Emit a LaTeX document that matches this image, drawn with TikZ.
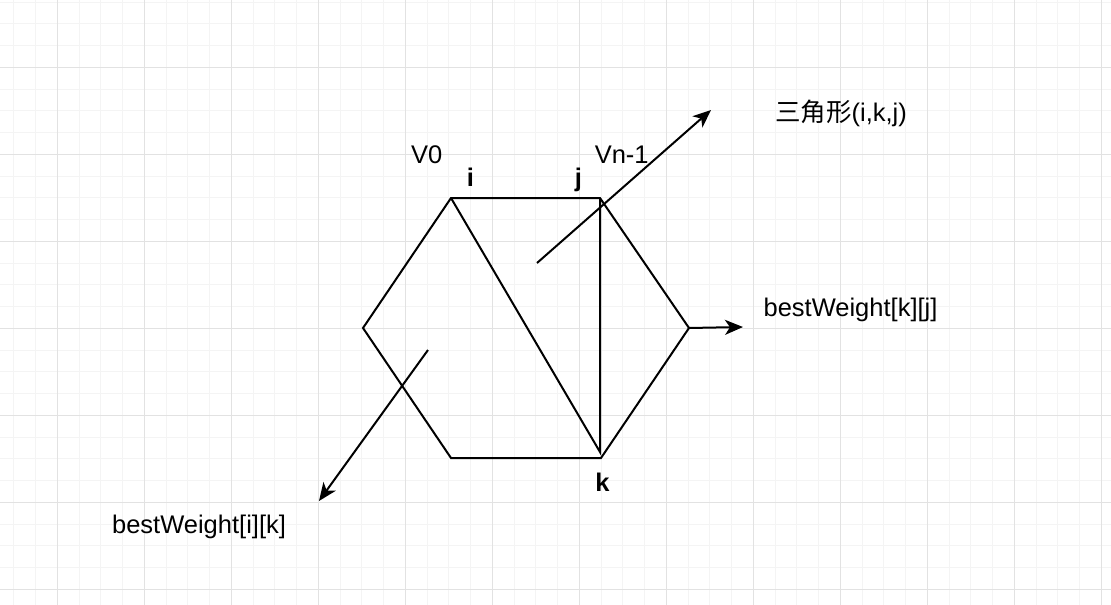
\documentclass[tikz,border=0pt]{standalone}
\usepackage{fontspec}
\setmainfont{Liberation Sans}
\newfontfamily\cjkfont{Noto Sans CJK SC}
\usepackage{tikz}
\usetikzlibrary{arrows.meta}
\definecolor{gridminor}{HTML}{F4F4F4}
\definecolor{gridmajor}{HTML}{E2E2E2}

\begin{document}
\begin{tikzpicture}[
        x=1pt, y=-1pt,
        edge/.style={
            line width=2pt,
            line join=miter
        },
        pointer/.style={
            -{Stealth[length=18pt,width=15pt,inset=5pt]},
            line width=2pt
        },
        lbl/.style={
            font=\fontsize{25.5}{30}\selectfont,
            inner sep=0pt,
            anchor=base
        },
        vlbl/.style={
            lbl,
            font=\fontsize{25.5}{30}\selectfont\bfseries
        }
    ]
    \useasboundingbox (0,0) rectangle (1111,605);
    \fill[white] (0,0) rectangle (1111,605);

    % background grid
    \foreach \gx in {13.8,35.55,...,1111}
        \draw[gridminor, line width=1pt] (\gx,0) -- (\gx,605);
    \foreach \gy in {2.05,23.8,...,605}
        \draw[gridminor, line width=1pt] (0,\gy) -- (1111,\gy);
    \foreach \gx in {57.3,144.3,...,1111}
        \draw[gridmajor, line width=1pt] (\gx,0) -- (\gx,605);
    \foreach \gy in {67.3,154.3,...,605}
        \draw[gridmajor, line width=1pt] (0,\gy) -- (1111,\gy);

    % hexagon corners
    \coordinate (i) at (451,198);
    \coordinate (j) at (600,198);
    \coordinate (r) at (689,328);
    \coordinate (kv) at (601,458);
    \coordinate (bl) at (451,458);
    \coordinate (l) at (363,328);
    \coordinate (k) at (600,452);

    \draw[edge] (i) -- (j) -- (r) -- (kv) -- (bl) -- (l) -- cycle;
    \draw[edge] (i) -- (k) -- (j);

    % arrows out of the regions
    \coordinate (tri) at (537,263);
    \coordinate (triend) at (711,110);
    \coordinate (kjend) at (743,327);
    \coordinate (ik) at (428,350);
    \coordinate (ikend) at (319,501);

    \draw[pointer] (tri) -- (triend);
    \draw[pointer] (r) -- (kjend);
    \draw[pointer] (ik) -- (ikend);

    % labels
    \node[lbl] (trilabel) at (841,121.7) {{\cjkfont 三角形}(i,k,j)};
    \node[lbl] (v0) at (426.7,163) {V0};
    \node[lbl] (vn) at (621.7,163) {Vn-1};
    \node[vlbl] (ilabel) at (470.5,186.7) {i};
    \node[vlbl] (jlabel) at (578.5,186.7) {j};
    \node[vlbl] (klabel) at (602.5,491.7) {k};
    \node[lbl] (kjlabel) at (850.5,316) {bestWeight[k][j]};
    \node[lbl] (iklabel) at (199,533) {bestWeight[i][k]};

\end{tikzpicture}
\end{document}
